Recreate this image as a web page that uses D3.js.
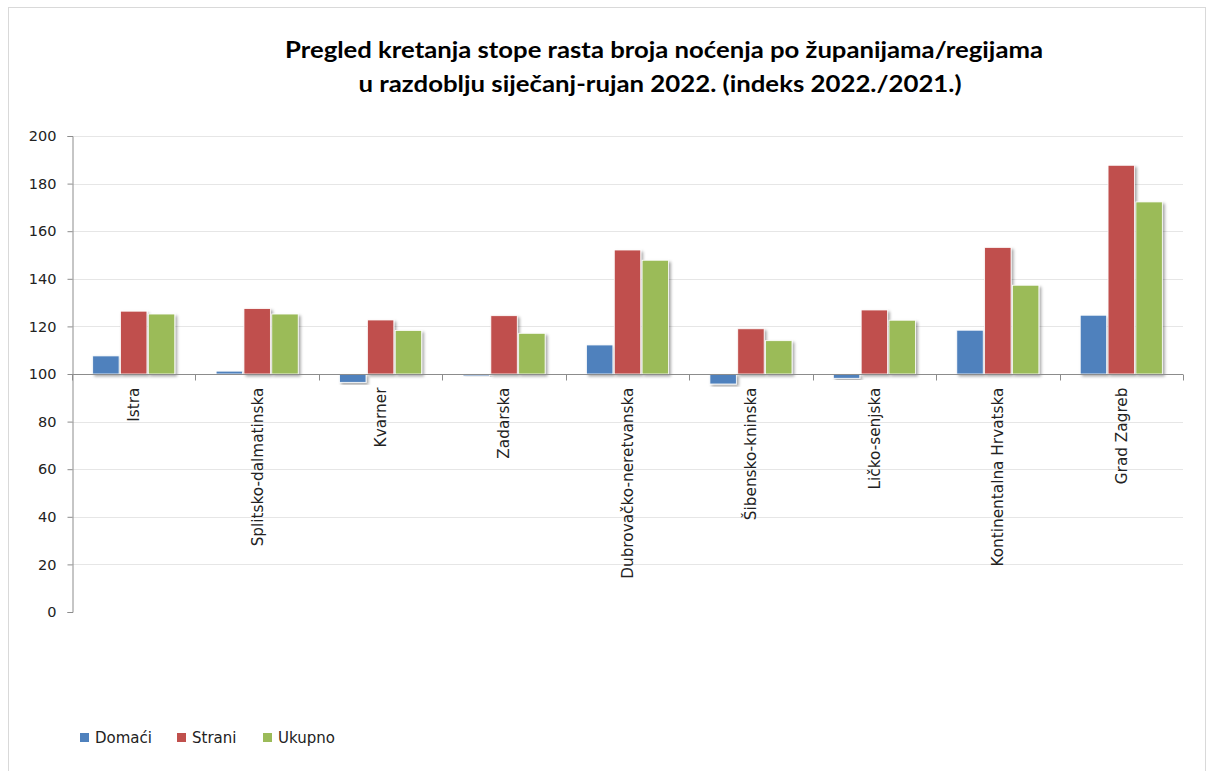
<!DOCTYPE html>
<html>
<head>
<meta charset="utf-8">
<script src="https://cdn.jsdelivr.net/npm/d3@7"></script>
<style>
html,body{margin:0;padding:0;background:#fff;}
svg{display:block;}
</style>
</head>
<body>
<svg id="chart" width="1214" height="771"></svg>
<script>
const categories = ["Istra","Splitsko-dalmatinska","Kvarner","Zadarska","Dubrovačko-neretvanska","Šibensko-kninska","Ličko-senjska","Kontinentalna Hrvatska","Grad Zagreb"];
const seriesNames = ["Domaći","Strani","Ukupno"];
const domaci = [107.6, 101.2, 96.5, 99.2, 112.2, 95.8, 98.2, 118.4, 124.7];
const strani = [126.4, 127.5, 122.7, 124.5, 152.1, 119.0, 126.9, 153.2, 187.7];
const ukupno = [125.2, 125.2, 118.3, 117.1, 147.8, 114.0, 122.6, 137.3, 172.3];
const yTicks = [0,20,40,60,80,100,120,140,160,180,200];
const titleLines = ["Pregled kretanja stope rasta broja noćenja po županijama/regijama","u razdoblju siječanj-rujan 2022. (indeks 2022./2021.)"];
const colors = ["#4f81bd","#c0504d","#9bbb59"];

const svg = d3.select("#chart");
const font = "'DejaVu Sans', Verdana, sans-serif";

// outer border
svg.append("rect").attr("x",8.5).attr("y",7.5).attr("width",1197).attr("height",770)
  .attr("fill","none").attr("stroke","#d9d9d9");

// shadow filter
const defs = svg.append("defs");
const f = defs.append("filter").attr("id","sh").attr("x","-20%").attr("y","-20%").attr("width","150%").attr("height","150%");
f.append("feDropShadow").attr("dx",2).attr("dy",2).attr("stdDeviation",1.6).attr("flood-color","#000").attr("flood-opacity",0.35);

// title
const tl = svg.append("g");
tl.append("text").attr("x",664).attr("y",58).attr("text-anchor","middle")
  .attr("font-family","Lato, Carlito, sans-serif").attr("font-weight","bold").attr("font-size",22.5)
  .attr("fill","#000").attr("textLength",758).attr("lengthAdjust","spacingAndGlyphs").text(titleLines[0]);
tl.append("text").attr("x",660).attr("y",92).attr("text-anchor","middle")
  .attr("font-family","Lato, Carlito, sans-serif").attr("font-weight","bold").attr("font-size",22.5)
  .attr("fill","#000").attr("textLength",603).attr("lengthAdjust","spacingAndGlyphs").text(titleLines[1]);

const pLeft = 72, pRight = 1183, pTop = 136, pBottom = 612;
const y = d3.scaleLinear().domain([0,200]).range([pBottom, pTop]);
const x = d3.scaleBand().domain(categories).range([pLeft,pRight]).paddingInner(0.335).paddingOuter(0.1675);
const xs = d3.scaleBand().domain(seriesNames).range([0, x.bandwidth()]).paddingInner(0.05);

// gridlines
svg.append("g").selectAll("line").data(yTicks.filter(d=>d!==100 && d!==0)).join("line")
  .attr("x1",pLeft).attr("x2",pRight).attr("y1",d=>Math.round(y(d))+0.5).attr("y2",d=>Math.round(y(d))+0.5)
  .attr("stroke","#e6e6e6").attr("stroke-width",1);

// y axis
const yAxis = svg.append("g").attr("transform",`translate(${pLeft+0.5},0)`)
  .call(d3.axisLeft(y).tickValues(yTicks).tickSize(5).tickPadding(11).tickFormat(d3.format("d")));
yAxis.select(".domain").attr("stroke","#8c8c8c");
yAxis.selectAll(".tick line").attr("stroke","#8c8c8c");
yAxis.selectAll(".tick text").attr("font-family",font).attr("font-size",14.5).attr("fill","#222");

// bars
const data = categories.map((c,i)=>({cat:c, vals:[domaci[i],strani[i],ukupno[i]]}));
const gBars = svg.append("g");
data.forEach(d=>{
  d.vals.forEach((v,j)=>{
    gBars.append("rect")
      .attr("x", x(d.cat)+xs(seriesNames[j]))
      .attr("width", xs.bandwidth())
      .attr("y", Math.min(y(v), y(100)))
      .attr("height", Math.abs(y(v)-y(100)))
      .attr("fill", colors[j])
      .attr("stroke","#fff").attr("stroke-width",0.8)
      .attr("filter","url(#sh)");
  });
});

// x axis at 100
const xAxisG = svg.append("g").attr("transform",`translate(0,${Math.round(y(100))+0.5})`);
xAxisG.append("line").attr("x1",pLeft).attr("x2",pRight).attr("stroke","#8c8c8c");
const bounds = d3.range(categories.length+1).map(i=>pLeft + i*x.step());
xAxisG.selectAll("line.tk").data(bounds).join("line").attr("class","tk")
  .attr("x1",d=>Math.round(d)+0.5).attr("x2",d=>Math.round(d)+0.5).attr("y1",0).attr("y2",6).attr("stroke","#8c8c8c");
xAxisG.selectAll("text").data(categories).join("text")
  .attr("transform",d=>`translate(${x(d)+x.bandwidth()/2},13) rotate(-90)`)
  .attr("text-anchor","end").attr("dy","0.35em")
  .attr("font-family",font).attr("font-size",15.3).attr("fill","#222")
  .text(d=>d);

// legend
const legX = [80, 177, 263];
const lg = svg.append("g");
seriesNames.forEach((s,i)=>{
  lg.append("rect").attr("x",legX[i]).attr("y",733).attr("width",9).attr("height",9).attr("fill",colors[i]);
  lg.append("text").attr("x",legX[i]+15).attr("y",743).attr("font-family",font).attr("font-size",15)
    .attr("fill","#222").text(s);
});
</script>
</body>
</html>
